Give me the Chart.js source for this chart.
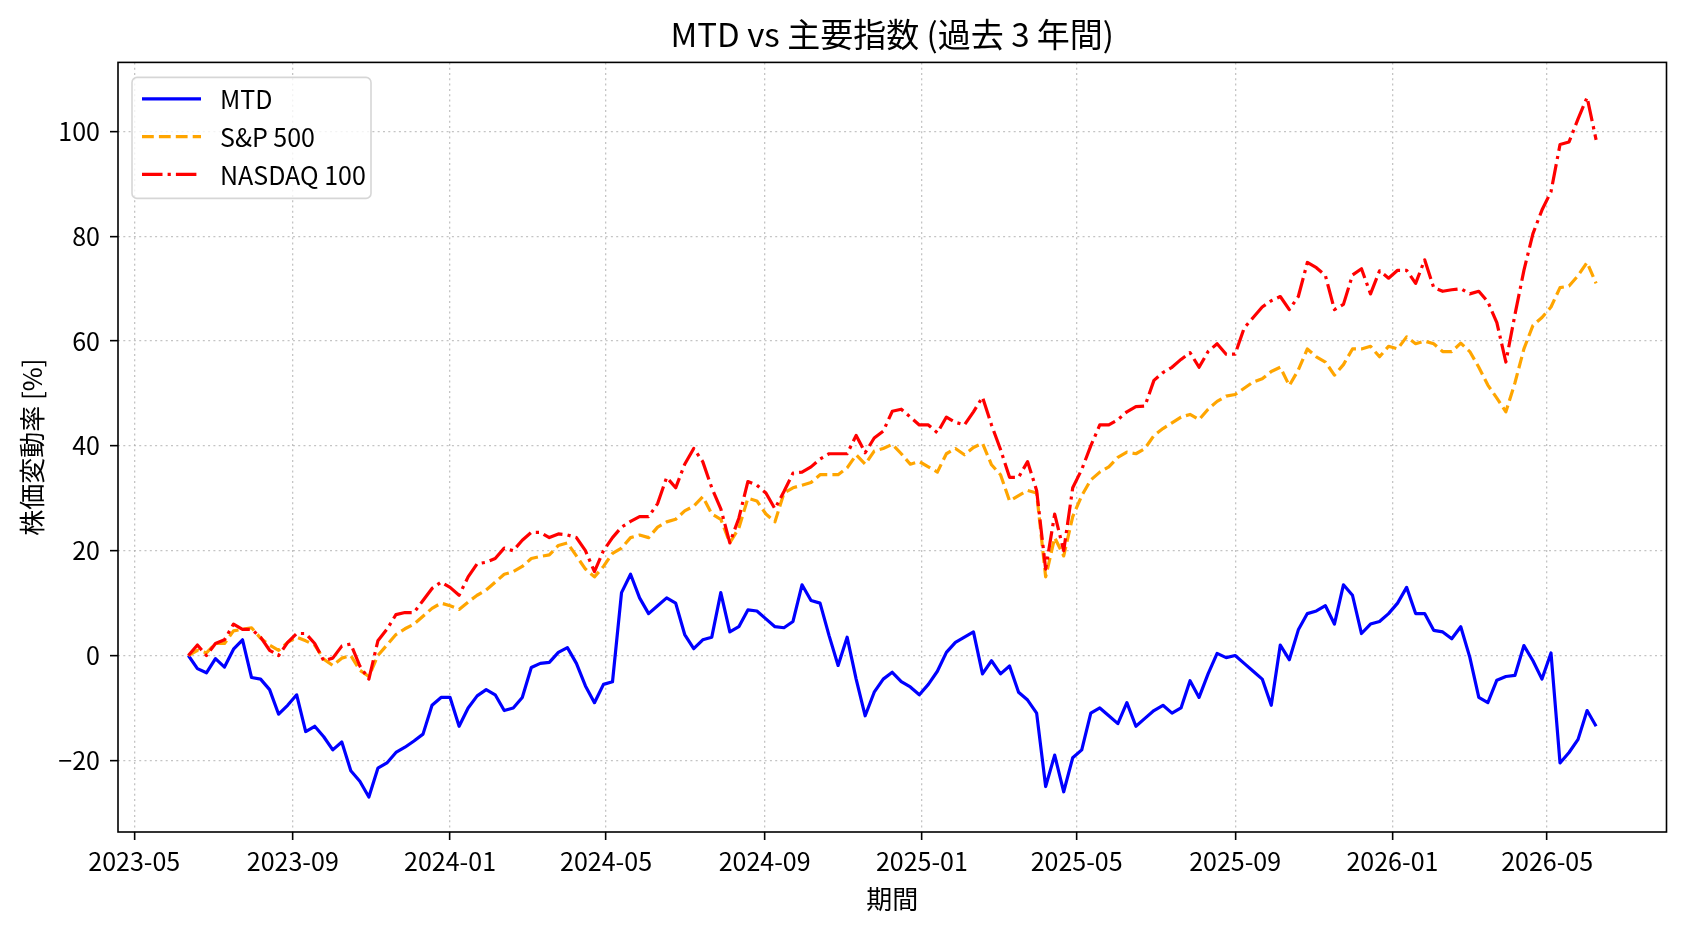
<!DOCTYPE html>
<html lang="ja">
<head>
<meta charset="utf-8">
<title>MTD vs 主要指数 (過去 3 年間)</title>
<script src="https://cdn.jsdelivr.net/npm/chart.js@4.4.0/dist/chart.umd.min.js"></script>
<style>
    html, body { margin: 0; padding: 0; background: #fff; }
    #wrap { width: 1688px; height: 932px; }
</style>
</head>
<body>
<div id="wrap"><canvas id="priceChart" width="1688" height="932"></canvas></div>
<script>
// --- Data (weekly samples) ---
const dates = [
    '2023-06-12', '2023-06-19', '2023-06-26', '2023-07-03', '2023-07-10', '2023-07-17', '2023-07-24', '2023-07-31',
    '2023-08-07', '2023-08-14', '2023-08-21', '2023-08-28', '2023-09-04', '2023-09-11', '2023-09-18', '2023-09-25',
    '2023-10-02', '2023-10-09', '2023-10-16', '2023-10-23', '2023-10-30', '2023-11-06', '2023-11-13', '2023-11-20',
    '2023-11-27', '2023-12-04', '2023-12-11', '2023-12-18', '2023-12-25',
    '2024-01-01', '2024-01-08', '2024-01-15', '2024-01-22', '2024-01-29', '2024-02-05', '2024-02-12', '2024-02-19',
    '2024-02-26', '2024-03-04', '2024-03-11', '2024-03-18', '2024-03-25', '2024-04-01', '2024-04-08', '2024-04-15',
    '2024-04-22', '2024-04-29', '2024-05-06', '2024-05-13', '2024-05-20', '2024-05-27', '2024-06-03', '2024-06-10',
    '2024-06-17', '2024-06-24', '2024-07-01', '2024-07-08', '2024-07-15', '2024-07-22', '2024-07-29', '2024-08-05',
    '2024-08-12', '2024-08-19', '2024-08-26', '2024-09-02', '2024-09-09', '2024-09-16', '2024-09-23', '2024-09-30',
    '2024-10-07', '2024-10-14', '2024-10-21', '2024-10-28', '2024-11-04', '2024-11-11', '2024-11-18', '2024-11-25',
    '2024-12-02', '2024-12-09', '2024-12-16', '2024-12-23', '2024-12-30',
    '2025-01-06', '2025-01-13', '2025-01-20', '2025-01-27', '2025-02-03', '2025-02-10', '2025-02-17', '2025-02-24',
    '2025-03-03', '2025-03-10', '2025-03-17', '2025-03-24', '2025-03-31', '2025-04-07', '2025-04-14', '2025-04-21',
    '2025-04-28', '2025-05-05', '2025-05-12', '2025-05-19', '2025-05-26', '2025-06-02', '2025-06-09', '2025-06-16',
    '2025-06-23', '2025-06-30', '2025-07-07', '2025-07-14', '2025-07-21', '2025-07-28', '2025-08-04', '2025-08-11',
    '2025-08-18', '2025-08-25', '2025-09-01', '2025-09-08', '2025-09-15', '2025-09-22', '2025-09-29', '2025-10-06',
    '2025-10-13', '2025-10-20', '2025-10-27', '2025-11-03', '2025-11-10', '2025-11-17', '2025-11-24', '2025-12-01',
    '2025-12-08', '2025-12-15', '2025-12-22', '2025-12-29',
    '2026-01-05', '2026-01-12', '2026-01-19', '2026-01-26', '2026-02-02', '2026-02-09', '2026-02-16', '2026-02-23',
    '2026-03-02', '2026-03-09', '2026-03-16', '2026-03-23', '2026-03-30', '2026-04-06', '2026-04-13', '2026-04-20',
    '2026-04-27', '2026-05-04', '2026-05-11', '2026-05-18', '2026-05-25', '2026-06-01', '2026-06-08'
];

const mtd = [
    0, -2.5, -3.3, -0.6, -2.2, 1.2, 3, -4.2, -4.5, -6.5, -11.2, -9.5, -7.5, -14.5, -13.5, -15.5,
    -18, -16.5, -22, -24, -27, -21.5, -20.5, -18.5, -17.5, -16.3, -15, -9.5, -8,
    -8, -13.5, -10, -7.7, -6.5, -7.5, -10.5, -10, -8, -2.3, -1.5, -1.3, 0.6, 1.5, -1.5, -5.8,
    -9, -5.5, -5, 12, 15.5, 11, 8, 9.5, 11, 10, 4, 1.3, 3, 3.5, 12, 4.5,
    5.5, 8.7, 8.5, 7, 5.5, 5.3, 6.5, 13.5, 10.5, 10, 3.8, -1.9, 3.5, -4.5, -11.5, -7,
    -4.5, -3.2, -5, -6, -7.5,
    -5.5, -3, 0.6, 2.5, 3.5, 4.5, -3.5, -1, -3.5, -2, -7, -8.5, -11, -25, -19, -26,
    -19.5, -18, -11, -10, -11.5, -13, -9, -13.5, -12, -10.5, -9.5, -11, -10, -4.8, -8, -3.5,
    0.4, -0.4, 0, -1.5, -3, -4.5, -9.5, 2, -0.8, 4.9, 8, 8.5, 9.5, 6, 13.5, 11.5,
    4.2, 6, 6.5, 8,
    10, 13, 8, 8, 4.8, 4.5, 3.2, 5.5, -0.3, -8, -9, -4.7, -4, -3.8, 1.9, -1,
    -4.5, 0.5, -20.5, -18.5, -16, -10.5, -13.5
];

const sp500 = [
    0, 1, 0.5, 2.3, 2.3, 4.7, 5, 5.3, 3.3, 2, 1, 2.5, 3.5, 2.8, 2, -0.7,
    -1.9, -0.5, 0, -2.8, -4, 0, 2, 4, 5.1, 6, 7.5, 9, 10,
    9.5, 8.8, 10.2, 11.5, 12.5, 14, 15.5, 16, 17, 18.5, 18.9, 19.2, 21, 21.5, 19, 16.5,
    15, 17, 19.5, 20.5, 22.5, 23, 22.5, 24.5, 25.5, 26, 27.6, 28.5, 30.3, 27, 26, 21.5,
    24.3, 30, 29.5, 27, 25.5, 31, 32, 32.5, 33, 34.5, 34.5, 34.5, 35.8, 38.3, 36.5, 39,
    39.5, 40.3, 38.5, 36.5, 37,
    36, 35, 38.5, 39.5, 38.3, 39.7, 40.5, 36.4, 34.5, 29.5, 30.5, 31.5, 31, 15, 22.5, 19,
    26.5, 30.5, 33.5, 35, 36, 37.8, 38.8, 38.5, 39.5, 42, 43.3, 44.4, 45.5, 46, 45, 47,
    48.5, 49.5, 49.8, 51, 52.2, 52.8, 54.2, 55, 51.5, 54.5, 58.5, 57, 56, 53.5, 55.5, 58.5,
    58.5, 59, 57, 59,
    58.5, 60.8, 59.5, 60, 59.5, 58, 58, 59.6, 58, 55, 51.6, 49.1, 46.5, 52, 58.5, 63,
    64.5, 66.5, 70.2, 70.5, 72.5, 75, 71
];

const nasdaq100 = [
    0, 2, 0, 2.3, 3, 6, 5, 5, 3.5, 1, 0, 2.5, 4.2, 4.2, 2.3, -1,
    -0.5, 1.8, 2.2, -2, -4.5, 2.8, 5, 7.8, 8.2, 8.2, 10.5, 12.8, 14,
    13, 11.5, 15, 17.5, 17.8, 18.5, 20.5, 20, 22, 23.5, 23.5, 22.5, 23.2, 23, 22.5, 20,
    16, 20, 22.5, 24.5, 25.6, 26.5, 26.5, 29, 34, 32, 36.5, 39.5, 37, 32, 28, 21.5,
    26.2, 33.2, 32.5, 31, 28, 31.3, 34.8, 35, 36, 37.5, 38.5, 38.5, 38.5, 42, 38.7, 41.5,
    42.8, 46.6, 47, 45.5, 44,
    44, 42.5, 45.5, 44.5, 44, 46.5, 49.3, 44, 39.3, 34, 34, 37, 31.5, 16.5, 27, 20,
    32, 35.5, 40, 44, 44, 45, 46.5, 47.5, 47.6, 52.5, 54, 55, 56.5, 57.8, 55, 58,
    59.5, 57.5, 57.5, 62.5, 64.5, 66.5, 67.7, 68.5, 66, 68.5, 75, 74, 72.5, 66, 67, 72.6,
    73.8, 69, 73.4, 72,
    73.5, 73.5, 71, 75.5, 70.2, 69.5, 69.8, 70, 69, 69.5, 67.5, 63.5, 56, 65, 73.5, 80.5,
    85, 88.5, 97.5, 98, 102.4, 106.5, 98.4
];

const seriesNames = ['MTD', 'S&P 500', 'NASDAQ 100'];
const xTickLabels = ['2023-05', '2023-09', '2024-01', '2024-05', '2024-09', '2025-01', '2025-05', '2025-09', '2026-01', '2026-05'];
const yTickValues = [-20, 0, 20, 40, 60, 80, 100];

// --- Helpers ---
const FONT = "'Noto Sans CJK JP', 'Noto Sans', sans-serif";
const toPoints = (values) => values.map((v, i) => ({ x: Date.parse(dates[i]), y: v }));

// matplotlib-like 5% margins around the data
const xFirst = Date.parse(dates[0]);
const xLast = Date.parse(dates[dates.length - 1]);
const xPad = (xLast - xFirst) * 0.05;
const allValues = mtd.concat(sp500, nasdaq100);
const yLo = Math.min(...allValues);
const yHi = Math.max(...allValues);
const yPad = (yHi - yLo) * 0.05;

const gridStyle = {
    color: 'rgba(176,176,176,0.75)',
    lineWidth: 1.3,
    tickColor: '#000',
    tickWidth: 1.6,
    tickLength: 8,
    tickBorderDash: []
};

// --- Plugins: title over the axes, frame, boxed legend ---
const axesDecor = {
    id: 'axesDecor',
    afterLayout(chart) {
        // centre the title on the plot area like matplotlib does
        const t = chart.titleBlock;
        if (t) {
            t.left = chart.chartArea.left;
            t.right = chart.chartArea.right;
            t.width = t.right - t.left;
        }
    },
    afterDatasetsDraw(chart) {
        const { ctx, chartArea: a } = chart;
        ctx.save();

        // frame
        ctx.strokeStyle = '#000';
        ctx.lineWidth = 1.6;
        ctx.setLineDash([]);
        ctx.strokeRect(a.left, a.top, a.right - a.left, a.bottom - a.top);

        // legend box
        const x0 = a.left + 14, y0 = a.top + 15, w = 239, h = 121, r = 5;
        ctx.beginPath();
        ctx.moveTo(x0 + r, y0);
        ctx.arcTo(x0 + w, y0, x0 + w, y0 + h, r);
        ctx.arcTo(x0 + w, y0 + h, x0, y0 + h, r);
        ctx.arcTo(x0, y0 + h, x0, y0, r);
        ctx.arcTo(x0, y0, x0 + w, y0, r);
        ctx.closePath();
        ctx.fillStyle = 'rgba(255,255,255,0.8)';
        ctx.fill();
        ctx.strokeStyle = 'rgba(204,204,204,0.8)';
        ctx.lineWidth = 1.6;
        ctx.stroke();

        chart.data.datasets.forEach((ds, i) => {
            const y = y0 + 21.5 + i * 37.7;
            ctx.strokeStyle = ds.borderColor;
            ctx.lineWidth = ds.borderWidth;
            ctx.setLineDash(ds.borderDash || []);
            ctx.beginPath();
            ctx.moveTo(x0 + 10, y);
            ctx.lineTo(x0 + 69, y);
            ctx.stroke();

            ctx.fillStyle = '#000';
            ctx.font = `25px ${FONT}`;
            ctx.textAlign = 'left';
            ctx.textBaseline = 'middle';
            ctx.fillText(ds.label, x0 + 88, y + 1);
        });
        ctx.restore();
    }
};

// --- Chart ---
const ctx = document.getElementById('priceChart').getContext('2d');

const priceChart = new Chart(ctx, {
    type: 'line',
    data: {
        datasets: [
            {
                label: seriesNames[0],
                data: toPoints(mtd),
                borderColor: '#0000ff',
                borderWidth: 3.2,
                order: 3
            },
            {
                label: seriesNames[1],
                data: toPoints(sp500),
                borderColor: '#ffa500',
                borderWidth: 3.2,
                borderDash: [11.8, 5.1],
                order: 2
            },
            {
                label: seriesNames[2],
                data: toPoints(nasdaq100),
                borderColor: '#ff0000',
                borderWidth: 3.2,
                borderDash: [20.5, 5.1, 3.2, 5.1],
                order: 1
            }
        ]
    },
    options: {
        responsive: false,
        animation: false,
        elements: {
            point: { radius: 0 },
            line: { tension: 0, fill: false, borderCapStyle: 'butt', borderJoinStyle: 'round' }
        },
        layout: { padding: { left: 0, right: 21.5, top: 0, bottom: 0 } },
        plugins: {
            legend: { display: false },
            tooltip: { enabled: false },
            title: {
                display: true,
                text: 'MTD vs 主要指数 (過去 3 年間)',
                color: '#000',
                font: { family: FONT, size: 33, weight: 'normal' },
                padding: { top: 14.7, bottom: 8.1 }
            }
        },
        scales: {
            x: {
                type: 'linear',
                min: xFirst - xPad,
                max: xLast + xPad,
                afterFit: (scale) => {
                    scale.height = 100;
                    // keep the plot area edges fixed (no extra room for end labels)
                    scale.paddingLeft = 0;
                    scale.paddingRight = 0;
                },
                afterBuildTicks: (scale) => {
                    scale.ticks = xTickLabels.map(s => ({ value: Date.parse(s + '-01') }));
                },
                ticks: {
                    autoSkip: false,
                    maxRotation: 0,
                    color: '#000',
                    padding: 6,
                    font: { family: FONT, size: 25 },
                    callback: (v) => new Date(v).toISOString().slice(0, 7)
                },
                grid: gridStyle,
                border: { display: false, dash: [2, 3.3] },
                title: {
                    display: true,
                    text: '期間',
                    color: '#000',
                    font: { family: FONT, size: 26 },
                    padding: { top: 0, bottom: 17.4 }
                }
            },
            y: {
                min: yLo - yPad,
                max: yHi + yPad,
                afterFit: (scale) => {
                    scale.width = 118;
                    scale.paddingTop = 0;
                    scale.paddingBottom = 0;
                },
                afterBuildTicks: (scale) => {
                    scale.ticks = yTickValues.map(v => ({ value: v }));
                },
                ticks: {
                    color: '#000',
                    padding: 10,
                    font: { family: FONT, size: 25 },
                    callback: (v) => String(v).replace('-', '\u2212')
                },
                grid: gridStyle,
                border: { display: false, dash: [2, 3.3] },
                title: {
                    display: true,
                    text: '株価変動率 [%]',
                    color: '#000',
                    font: { family: FONT, size: 26 },
                    padding: { top: 16.4, bottom: 0 }
                }
            }
        }
    },
    plugins: [axesDecor]
});
</script>
</body>
</html>
